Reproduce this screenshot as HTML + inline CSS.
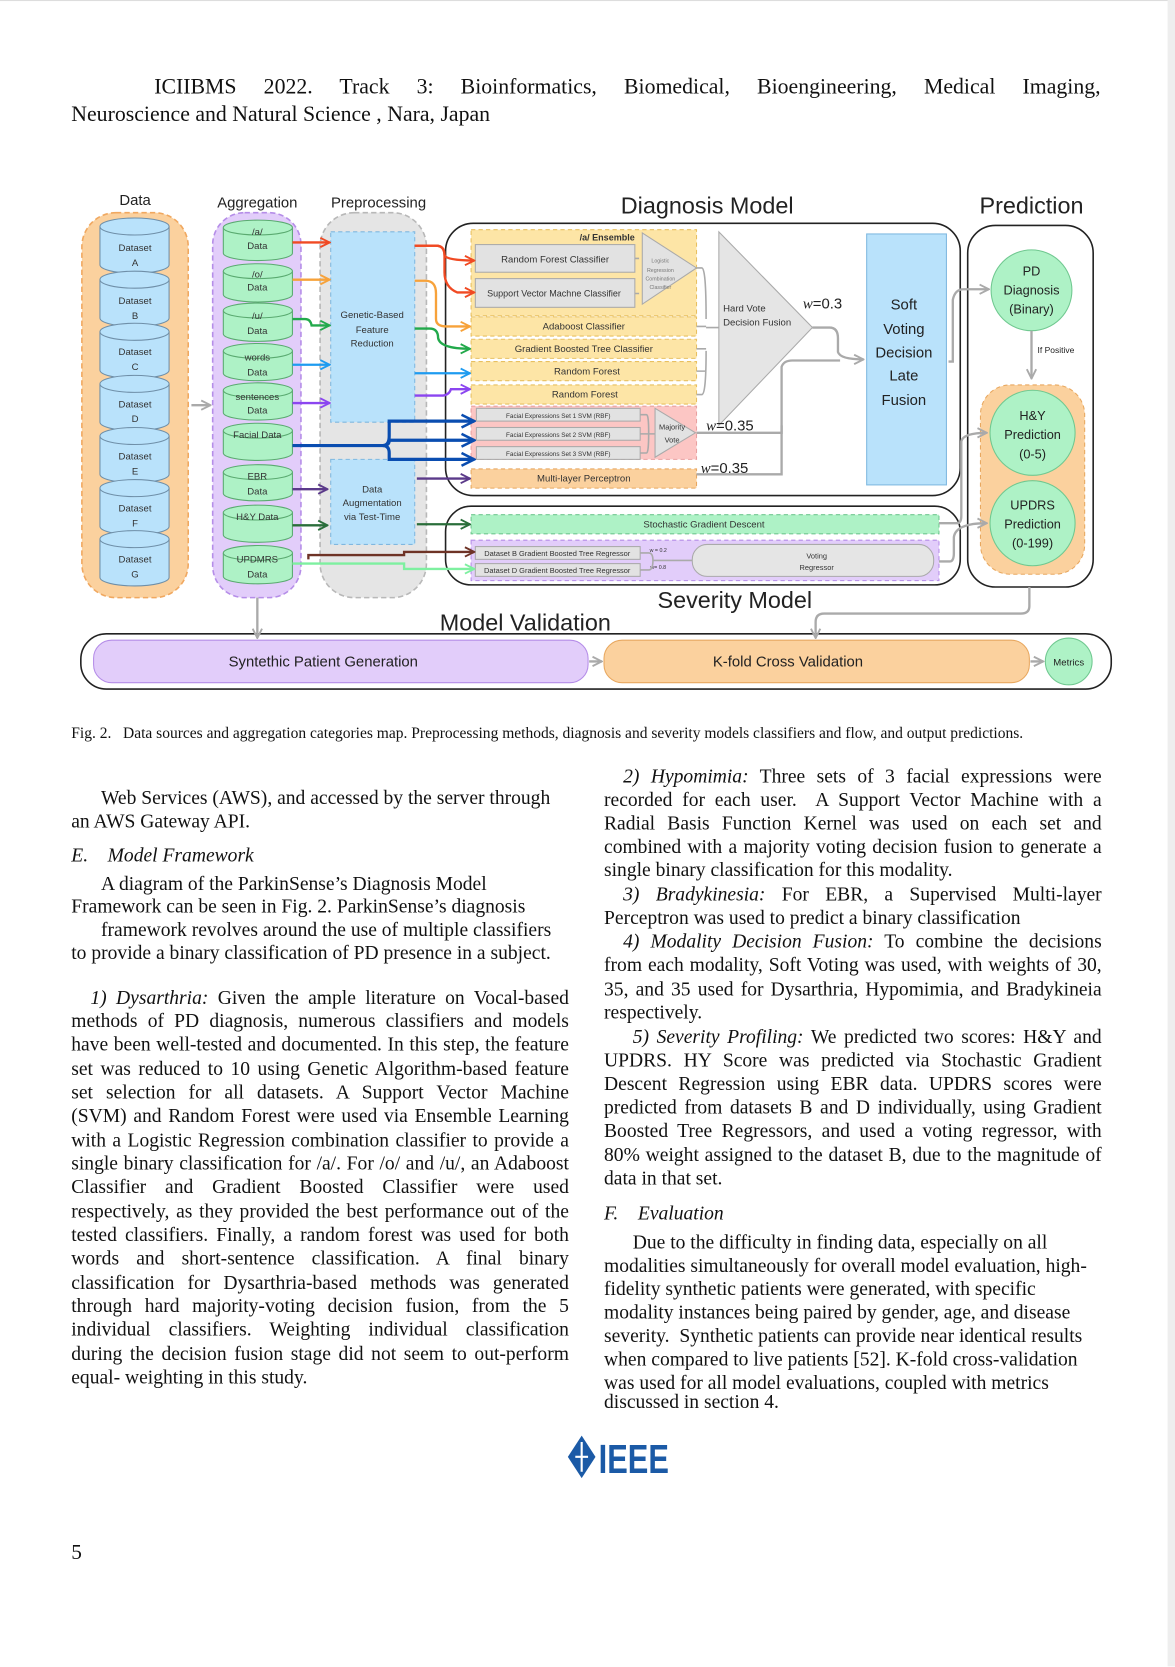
<!DOCTYPE html>
<html><head><meta charset="utf-8">
<style>
html,body{margin:0;padding:0;background:#fff;}
body{width:1175px;height:1667px;overflow:hidden;position:relative;}
#pg{position:absolute;left:0;top:0;width:1105px;height:1567px;transform:scale(1.0634);transform-origin:0 0;font-family:"Liberation Serif",serif;color:#111;}
.t{position:absolute;font-size:18.4px;line-height:22px;white-space:nowrap;}
.j{text-align:justify;text-align-last:justify;white-space:normal;}
.L{left:67px;width:468px;}
.R{left:568px;width:468px;}
i{font-style:italic;}
svg text{font-family:"Liberation Sans",sans-serif;}
</style></head><body><div id="pg">
<div style="position:absolute;left:0;top:0;width:1105px;height:1px;background:#ddd"></div>
<div style="position:absolute;left:1098px;top:0;width:7px;height:1567px;background:#eee"></div>
<div class="t j" style="left:67px;width:968px;top:71px;font-size:20.5px;text-indent:78px;">ICIIBMS 2022. Track 3: Bioinformatics, Biomedical, Bioengineering, Medical Imaging,</div>
<div class="t" style="left:67px;top:97px;font-size:20.5px;">Neuroscience and Natural Science , Nara, Japan</div>

<svg style="position:absolute;left:0;top:0" width="1105" height="700" viewBox="0 0 1105 700">
<defs>
<marker id="a" viewBox="0 0 10 10" refX="9" refY="5" markerWidth="5" markerHeight="5" orient="auto" markerUnits="strokeWidth"><path d="M1,1 L9,5 L1,9" fill="none" stroke="context-stroke" stroke-width="1.6"/></marker>
</defs>
<g font-size="14" fill="#222">
<text x="127" y="193" text-anchor="middle">Data</text>
<text x="242" y="195" text-anchor="middle">Aggregation</text>
<text x="356" y="195" text-anchor="middle">Preprocessing</text>
<text x="665" y="201" text-anchor="middle" font-size="22">Diagnosis Model</text>
<text x="970" y="201" text-anchor="middle" font-size="22">Prediction</text>
<text x="691" y="572" text-anchor="middle" font-size="22">Severity Model</text>
<text x="494" y="593" text-anchor="middle" font-size="22">Model Validation</text>
</g>
<rect x="77" y="200" width="100" height="362" rx="32" fill="#fbd19e" stroke="#f0a860" stroke-dasharray="5,3" stroke-width="1.5"/>
<rect x="200" y="200" width="83" height="362" rx="30" fill="#e2cdfa" stroke="#b58de8" stroke-dasharray="5,3" stroke-width="1.5"/>
<rect x="301" y="200" width="100" height="362" rx="32" fill="#e5e5e5" stroke="#b8b8b8" stroke-dasharray="5,3" stroke-width="1.5"/>
<g font-size="9" text-anchor="middle" fill="#333">
<g stroke="#6f8fa8" stroke-width="1" fill="#b9e2fb">
<path d="M94,213 v36 a32.5,8 0 0 0 65,0 v-36"/><ellipse cx="126.5" cy="213" rx="32.5" ry="8"/>
<path d="M94,263 v36 a32.5,8 0 0 0 65,0 v-36"/><ellipse cx="126.5" cy="263" rx="32.5" ry="8"/>
<path d="M94,312 v36 a32.5,8 0 0 0 65,0 v-36"/><ellipse cx="126.5" cy="312" rx="32.5" ry="8"/>
<path d="M94,361 v36 a32.5,8 0 0 0 65,0 v-36"/><ellipse cx="126.5" cy="361" rx="32.5" ry="8"/>
<path d="M94,410 v36 a32.5,8 0 0 0 65,0 v-36"/><ellipse cx="126.5" cy="410" rx="32.5" ry="8"/>
<path d="M94,459 v36 a32.5,8 0 0 0 65,0 v-36"/><ellipse cx="126.5" cy="459" rx="32.5" ry="8"/>
<path d="M94,507 v36 a32.5,8 0 0 0 65,0 v-36"/><ellipse cx="126.5" cy="507" rx="32.5" ry="8"/>
</g>
<text x="127" y="236">Dataset</text><text x="127" y="250">A</text>
<text x="127" y="286">Dataset</text><text x="127" y="300">B</text>
<text x="127" y="334">Dataset</text><text x="127" y="348">C</text>
<text x="127" y="383">Dataset</text><text x="127" y="397">D</text>
<text x="127" y="432">Dataset</text><text x="127" y="446">E</text>
<text x="127" y="481">Dataset</text><text x="127" y="495">F</text>
<text x="127" y="529">Dataset</text><text x="127" y="543">G</text>
<g stroke="#5aaa70" stroke-width="1" fill="#aef2c6">
<path d="M210,214 v24 a32.5,7 0 0 0 65,0 v-24"/><ellipse cx="242.5" cy="214" rx="32.5" ry="7"/>
<path d="M210,255 v22 a32.5,7 0 0 0 65,0 v-22"/><ellipse cx="242.5" cy="255" rx="32.5" ry="7"/>
<path d="M210,292 v22 a32.5,7 0 0 0 65,0 v-22"/><ellipse cx="242.5" cy="292" rx="32.5" ry="7"/>
<path d="M210,330 v21 a32.5,7 0 0 0 65,0 v-21"/><ellipse cx="242.5" cy="330" rx="32.5" ry="7"/>
<path d="M210,367 v21 a32.5,7 0 0 0 65,0 v-21"/><ellipse cx="242.5" cy="367" rx="32.5" ry="7"/>
<path d="M210,405 v21 a32.5,7 0 0 0 65,0 v-21"/><ellipse cx="242.5" cy="405" rx="32.5" ry="7"/>
<path d="M210,444 v20 a32.5,7 0 0 0 65,0 v-20"/><ellipse cx="242.5" cy="444" rx="32.5" ry="7"/>
<path d="M210,482 v21 a32.5,7 0 0 0 65,0 v-21"/><ellipse cx="242.5" cy="482" rx="32.5" ry="7"/>
<path d="M210,520 v22 a32.5,7 0 0 0 65,0 v-22"/><ellipse cx="242.5" cy="520" rx="32.5" ry="7"/>
</g>
<text x="242" y="221">/a/</text><text x="242" y="234">Data</text>
<text x="242" y="261">/o/</text><text x="242" y="273">Data</text>
<text x="242" y="300">/u/</text><text x="242" y="314">Data</text>
<text x="242" y="339">words</text><text x="242" y="353">Data</text>
<text x="242" y="376">sentences</text><text x="242" y="389">Data</text>
<text x="242" y="412">Facial Data</text>
<text x="242" y="451">EBR</text><text x="242" y="465">Data</text>
<text x="242" y="489">H&amp;Y Data</text>
<text x="242" y="529">UPDMRS</text><text x="242" y="543">Data</text>
</g>
<rect x="311" y="218" width="79" height="179" fill="#b9e2fb" stroke="#7fb8e0" stroke-dasharray="4,3"/>
<rect x="311" y="432" width="79" height="80" fill="#b9e2fb" stroke="#7fb8e0" stroke-dasharray="4,3"/>
<g font-size="9" text-anchor="middle" fill="#333">
<text x="350" y="299">Genetic-Based</text><text x="350" y="313">Feature</text><text x="350" y="326">Reduction</text>
<text x="350" y="463">Data</text><text x="350" y="476">Augmentation</text><text x="350" y="489">via Test-Time</text>
</g>
<rect x="419" y="210" width="484" height="256" rx="26" fill="#fff" stroke="#222" stroke-width="1.5"/>
<rect x="419" y="476" width="484" height="74" rx="24" fill="#fff" stroke="#222" stroke-width="1.5"/>
<rect x="910" y="212" width="118" height="340" rx="26" fill="#fff" stroke="#222" stroke-width="1.5"/>
<rect x="76" y="596" width="969" height="52" rx="24" fill="#fff" stroke="#222" stroke-width="1.5"/>
<g stroke="#e8c060" stroke-dasharray="4,3" stroke-width="1" fill="#fde5a6">
<rect x="443" y="216" width="212" height="81"/>
<rect x="443" y="298" width="212" height="18"/>
<rect x="443" y="319" width="212" height="18"/>
<rect x="443" y="340" width="212" height="18"/>
<rect x="443" y="362" width="212" height="18"/>
</g>
<rect x="443" y="382" width="212" height="50" fill="#fcc6c4" stroke="#e8a0a0" stroke-dasharray="4,3"/>
<rect x="443" y="441" width="212" height="18" fill="#fbd19e" stroke="#e8a860" stroke-dasharray="4,3"/>
<g fill="#e2e2e2" stroke="#aaa">
<rect x="447" y="230" width="150" height="26"/>
<rect x="447" y="262" width="150" height="27"/>
<rect x="448" y="384" width="154" height="12"/>
<rect x="448" y="402" width="154" height="12"/>
<rect x="448" y="420" width="154" height="12"/>
<path d="M604,219 L655,252 L604,286 Z"/>
<path d="M616,384 L654,407 L616,430 Z"/>
<path d="M676,218 L764,308 L676,400 Z" fill="#e5e5e5"/>
</g>
<g font-size="9" text-anchor="middle" fill="#333">
<text x="571" y="226" font-weight="bold" font-size="8.5">/a/ Ensemble</text>
<text x="522" y="247">Random Forest Classifier</text>
<text x="521" y="279" font-size="8.5">Support Vector Machne Classifier</text>
<text x="549" y="310">Adaboost Classifier</text>
<text x="549" y="331">Gradient Boosted Tree Classifier</text>
<text x="552" y="352">Random Forest</text>
<text x="550" y="374">Random Forest</text>
<text x="549" y="453">Multi-layer Perceptron</text>
<g font-size="6"><text x="525" y="393">Facial Expressions Set 1 SVM (RBF)</text><text x="525" y="411">Facial Expressions Set 2 SVM (RBF)</text><text x="525" y="429">Facial Expressions Set 3 SVM (RBF)</text></g>
<g font-size="5" fill="#777"><text x="621" y="247">Logistic</text><text x="621" y="256">Regression</text><text x="621" y="264">Combination</text><text x="621" y="272">Classifier</text></g>
<text x="632" y="404" font-size="7">Majority</text><text x="632" y="416" font-size="7">Vote</text>
<text x="680" y="293" text-anchor="start">Hard Vote</text><text x="680" y="306" text-anchor="start">Decision Fusion</text>
</g>
<g font-size="14" fill="#222"><text x="755" y="290"><tspan font-style="italic" font-family="Liberation Serif">w</tspan>=0.3</text>
<text x="664" y="405"><tspan font-style="italic" font-family="Liberation Serif">w</tspan>=0.35</text>
<text x="659" y="445"><tspan font-style="italic" font-family="Liberation Serif">w</tspan>=0.35</text></g>
<rect x="815" y="220" width="75" height="236" fill="#b9e2fb" stroke="#7fb8e0"/>
<g font-size="14" text-anchor="middle" fill="#222"><text x="850" y="291">Soft</text><text x="850" y="314">Voting</text><text x="850" y="336">Decision</text><text x="850" y="358">Late</text><text x="850" y="381">Fusion</text></g>
<rect x="443" y="484" width="440" height="18" fill="#aef2c6" stroke="#70c890" stroke-dasharray="4,3"/>
<rect x="443" y="508" width="440" height="38" fill="#e2cdfa" stroke="#b58de8" stroke-dasharray="4,3"/>
<rect x="447" y="514" width="155" height="12" fill="#e2e2e2" stroke="#aaa"/>
<rect x="447" y="530" width="155" height="12" fill="#e2e2e2" stroke="#aaa"/>
<rect x="651" y="512" width="227" height="30" rx="14" fill="#e5e5e5" stroke="#aaa"/>
<g font-size="9" text-anchor="middle" fill="#333">
<text x="662" y="496">Stochastic Gradient Descent</text>
<text x="524" y="523" font-size="7">Dataset B Gradient Boosted Tree Regressor</text>
<text x="524" y="539" font-size="7">Dataset D Gradient Boosted Tree Regressor</text>
<text x="768" y="525" font-size="7">Voting</text><text x="768" y="536" font-size="7">Regressor</text>
<text x="619" y="519" font-size="5">w = 0.2</text><text x="619" y="535" font-size="5">w= 0.8</text>
</g>
<rect x="922" y="362" width="98" height="178" rx="28" fill="#fbd19e" stroke="#e8a860" stroke-dasharray="4,3"/>
<g fill="#aef2c6" stroke="#70c890"><circle cx="970" cy="273" r="38"/><circle cx="971" cy="407" r="40"/><circle cx="971" cy="492" r="40"/><circle cx="1005" cy="622" r="22"/></g>
<g font-size="12" text-anchor="middle" fill="#222">
<text x="970" y="259">PD</text><text x="970" y="277">Diagnosis</text><text x="970" y="295">(Binary)</text>
<text x="971" y="395">H&amp;Y</text><text x="971" y="413">Prediction</text><text x="971" y="431">(0-5)</text>
<text x="971" y="479">UPDRS</text><text x="971" y="497">Prediction</text><text x="971" y="515">(0-199)</text>
<text x="1005" y="626" font-size="9">Metrics</text>
<text x="993" y="332" font-size="8">If Positive</text>
</g>
<rect x="88" y="602" width="465" height="40" rx="17" fill="#e2cdfa" stroke="#b58de8"/>
<rect x="568" y="602" width="400" height="40" rx="17" fill="#fbd19e" stroke="#e8a860"/>
<g font-size="14" text-anchor="middle" fill="#222"><text x="304" y="627">Syntethic Patient Generation</text><text x="741" y="627">K-fold Cross Validation</text></g>
<g fill="none" stroke-width="2.2" marker-end="url(#a)">
<path d="M180,381 H198" stroke="#aaa"/>
<path d="M275,228 H310" stroke="#f04a23"/>
<path d="M275,263 H310" stroke="#f7a23a"/>
<path d="M275,300 H287 Q292,300 293,306 H310" stroke="#22a94b"/>
<path d="M275,343 H310" stroke="#1e9bf0"/>
<path d="M275,379 H310" stroke="#8b45f0"/>
<path d="M275,460 H308" stroke="#5b3a8a"/>
<path d="M275,494 H308" stroke="#2a6e3a"/>
<path d="M390,231 H410 Q418,231 418,240 V256 Q418,270 430,275 H446" stroke="#f04a23"/>
<path d="M390,231 H410 Q418,231 418,240 Q420,245 446,245" stroke="#f04a23"/>
<path d="M390,264 H400 Q410,264 410,276 V300 Q410,307 420,307 H442" stroke="#f7a23a"/>
<path d="M390,309 H404 Q412,309 412,318 Q414,328 442,328" stroke="#22a94b"/>
<path d="M390,351 H442" stroke="#1e9bf0"/>
<path d="M390,372 H415 Q422,372 424,366 H442" stroke="#8b45f0"/>
<path d="M275,419 H360 Q366,419 366,410 V396 H446" stroke="#0a4db0" stroke-width="3"/>
<path d="M360,419 Q366,419 366,414 H446" stroke="#0a4db0" stroke-width="3"/>
<path d="M360,419 Q366,419 366,426 V432 H446" stroke="#0a4db0" stroke-width="3"/>
<path d="M392,450 H442" stroke="#5b3a8a"/>
<path d="M392,493 H442" stroke="#2a6e3a"/>
<path d="M290,526 V522 H380 V519 H446" stroke="#6e3326"/>
<path d="M275,530 H380 V535 H446" stroke="#7ef0a0"/>
<path d="M764,308 H780 Q788,308 788,318 V331 Q790,338 812,338" stroke="#aaa"/>
<path d="M655,407 H735 V345 Q737,339 745,339 H790" stroke="#aaa" marker-end="none"/>
<path d="M655,446 H735 V400" stroke="#aaa" marker-end="none"/>
<path d="M892,340 H896 V282 Q898,272 906,272 H930" stroke="#aaa"/>
<path d="M970,311 V356" stroke="#aaa"/>
<path d="M883,492 H900 Q904,492 904,485 V415 Q906,407 928,407" stroke="#aaa"/>
<path d="M883,528 H893 Q897,528 897,520 V505 Q899,492 928,492" stroke="#aaa"/>
<path d="M242,562 V600" stroke="#aaa"/>
<path d="M968,552 V570 Q968,577 960,577 H775 Q767,577 767,585 V600" stroke="#aaa"/>
<path d="M554,622 H566" stroke="#aaa"/>
<path d="M969,622 H981" stroke="#aaa"/>
<path d="M602,520 H610 Q614,520 614,527 H651 M602,536 H610 Q614,536 614,527" stroke="#aaa" stroke-width="1.5" marker-end="none"/>
<path d="M655,252 H660 Q664,252 664,300 M655,307 H664 M655,328 H664 M655,349 H664 M655,371 H660 Q664,371 664,330 M664,308 H676" stroke="#aaa" stroke-width="1.5" marker-end="none"/>
<path d="M597,243 H601 M597,276 H601" stroke="#aaa" stroke-width="1.5" marker-end="none"/>
<path d="M602,390 H608 Q610,390 610,407 M602,408 H616 M602,426 H608 Q610,426 610,407" stroke="#aaa" stroke-width="1.5" marker-end="none"/>
</g>
</svg>

<div style="position:absolute;left:67px;top:682px;font-size:14.6px;white-space:nowrap;">Fig. 2.&nbsp;&nbsp; Data sources and aggregation categories map. Preprocessing methods, diagnosis and severity models classifiers and flow, and output predictions.</div>

<div class="t" style="left:95px;top:739px;">Web Services (AWS), and accessed by the server through</div>
<div class="t" style="left:67px;top:761px;">an AWS Gateway API.</div>
<div class="t" style="left:67px;top:793px;"><i>E.&nbsp;&nbsp;&nbsp; Model Framework</i></div>
<div class="t" style="left:95px;top:820px;">A diagram of the ParkinSense’s Diagnosis Model</div>
<div class="t" style="left:67px;top:841px;">Framework can be seen in Fig. 2. ParkinSense’s diagnosis</div>
<div class="t" style="left:95px;top:863px;">framework revolves around the use of multiple classifiers</div>
<div class="t" style="left:67px;top:885px;">to provide a binary classification of PD presence in a subject.</div>
<div class="t j L" style="top:927px;text-indent:18px;"><i>1) Dysarthria:</i> Given the ample literature on Vocal-based</div>
<div class="t j L" style="top:949px;">methods of PD diagnosis, numerous classifiers and models</div>
<div class="t j L" style="top:971px;">have been well-tested and documented. In this step, the feature</div>
<div class="t j L" style="top:994px;">set was reduced to 10 using Genetic Algorithm-based feature</div>
<div class="t j L" style="top:1016px;">set selection for all datasets. A Support Vector Machine</div>
<div class="t j L" style="top:1038px;">(SVM) and Random Forest were used via Ensemble Learning</div>
<div class="t j L" style="top:1061px;">with a Logistic Regression combination classifier to provide a</div>
<div class="t j L" style="top:1083px;">single binary classification for /a/. For /o/ and /u/, an Adaboost</div>
<div class="t j L" style="top:1105px;">Classifier and Gradient Boosted Classifier were used</div>
<div class="t j L" style="top:1128px;">respectively, as they provided the best performance out of the</div>
<div class="t j L" style="top:1150px;">tested classifiers. Finally, a random forest was used for both</div>
<div class="t j L" style="top:1172px;">words and short-sentence classification. A final binary</div>
<div class="t j L" style="top:1195px;">classification for Dysarthria-based methods was generated</div>
<div class="t j L" style="top:1217px;">through hard majority-voting decision fusion, from the 5</div>
<div class="t j L" style="top:1239px;">individual classifiers. Weighting individual classification</div>
<div class="t j L" style="top:1262px;">during the decision fusion stage did not seem to out-perform</div>
<div class="t" style="left:67px;top:1284px;">equal- weighting in this study.</div>

<div class="t j R" style="top:719px;text-indent:18px;"><i>2) Hypomimia:</i> Three sets of 3 facial expressions were</div>
<div class="t j R" style="top:741px;">recorded for each user.&nbsp; A Support Vector Machine with a</div>
<div class="t j R" style="top:763px;">Radial Basis Function Kernel was used on each set and</div>
<div class="t j R" style="top:785px;">combined with a majority voting decision fusion to generate a</div>
<div class="t" style="left:568px;top:807px;">single binary classification for this modality.</div>
<div class="t j R" style="top:830px;text-indent:18px;"><i>3) Bradykinesia:</i> For EBR, a Supervised Multi-layer</div>
<div class="t" style="left:568px;top:852px;">Perceptron was used to predict a binary classification</div>
<div class="t j R" style="top:874px;text-indent:18px;"><i>4) Modality Decision Fusion:</i> To combine the decisions</div>
<div class="t j R" style="top:896px;">from each modality, Soft Voting was used, with weights of 30,</div>
<div class="t j R" style="top:919px;">35, and 35 used for Dysarthria, Hypomimia, and Bradykineia</div>
<div class="t" style="left:568px;top:941px;">respectively.</div>
<div class="t j R" style="top:964px;text-indent:27px;"><i>5) Severity Profiling:</i> We predicted two scores: H&amp;Y and</div>
<div class="t j R" style="top:986px;">UPDRS. HY Score was predicted via Stochastic Gradient</div>
<div class="t j R" style="top:1008px;">Descent Regression using EBR data. UPDRS scores were</div>
<div class="t j R" style="top:1030px;">predicted from datasets B and D individually, using Gradient</div>
<div class="t j R" style="top:1052px;">Boosted Tree Regressors, and used a voting regressor, with</div>
<div class="t j R" style="top:1075px;">80% weight assigned to the dataset B, due to the magnitude of</div>
<div class="t" style="left:568px;top:1097px;">data in that set.</div>
<div class="t" style="left:568px;top:1130px;"><i>F.&nbsp;&nbsp;&nbsp; Evaluation</i></div>
<div class="t" style="left:595px;top:1157px;">Due to the difficulty in finding data, especially on all</div>
<div class="t" style="left:568px;top:1179px;">modalities simultaneously for overall model evaluation, high-</div>
<div class="t" style="left:568px;top:1201px;">fidelity synthetic patients were generated, with specific</div>
<div class="t" style="left:568px;top:1223px;">modality instances being paired by gender, age, and disease</div>
<div class="t" style="left:568px;top:1245px;">severity.&nbsp; Synthetic patients can provide near identical results</div>
<div class="t" style="left:568px;top:1267px;">when compared to live patients [52]. K-fold cross-validation</div>
<div class="t" style="left:568px;top:1289px;">was used for all model evaluations, coupled with metrics</div>
<div class="t" style="left:568px;top:1307px;">discussed in section 4.</div>

<svg style="position:absolute;left:533px;top:1348px" width="100" height="44" viewBox="0 0 100 44">
<path d="M14,2 L27,22 L14,42 L1,22 Z" fill="#1b5aa6"/>
<path d="M14,8 V36 M8,22 H20" stroke="#fff" stroke-width="2"/>
<text x="30" y="37" font-family="Liberation Sans" font-weight="bold" font-size="38" fill="#1b5aa6" textLength="66" lengthAdjust="spacingAndGlyphs">IEEE</text>
</svg>
<div class="t" style="left:67px;top:1449px;font-size:20px;">5</div>
</div></body></html>
